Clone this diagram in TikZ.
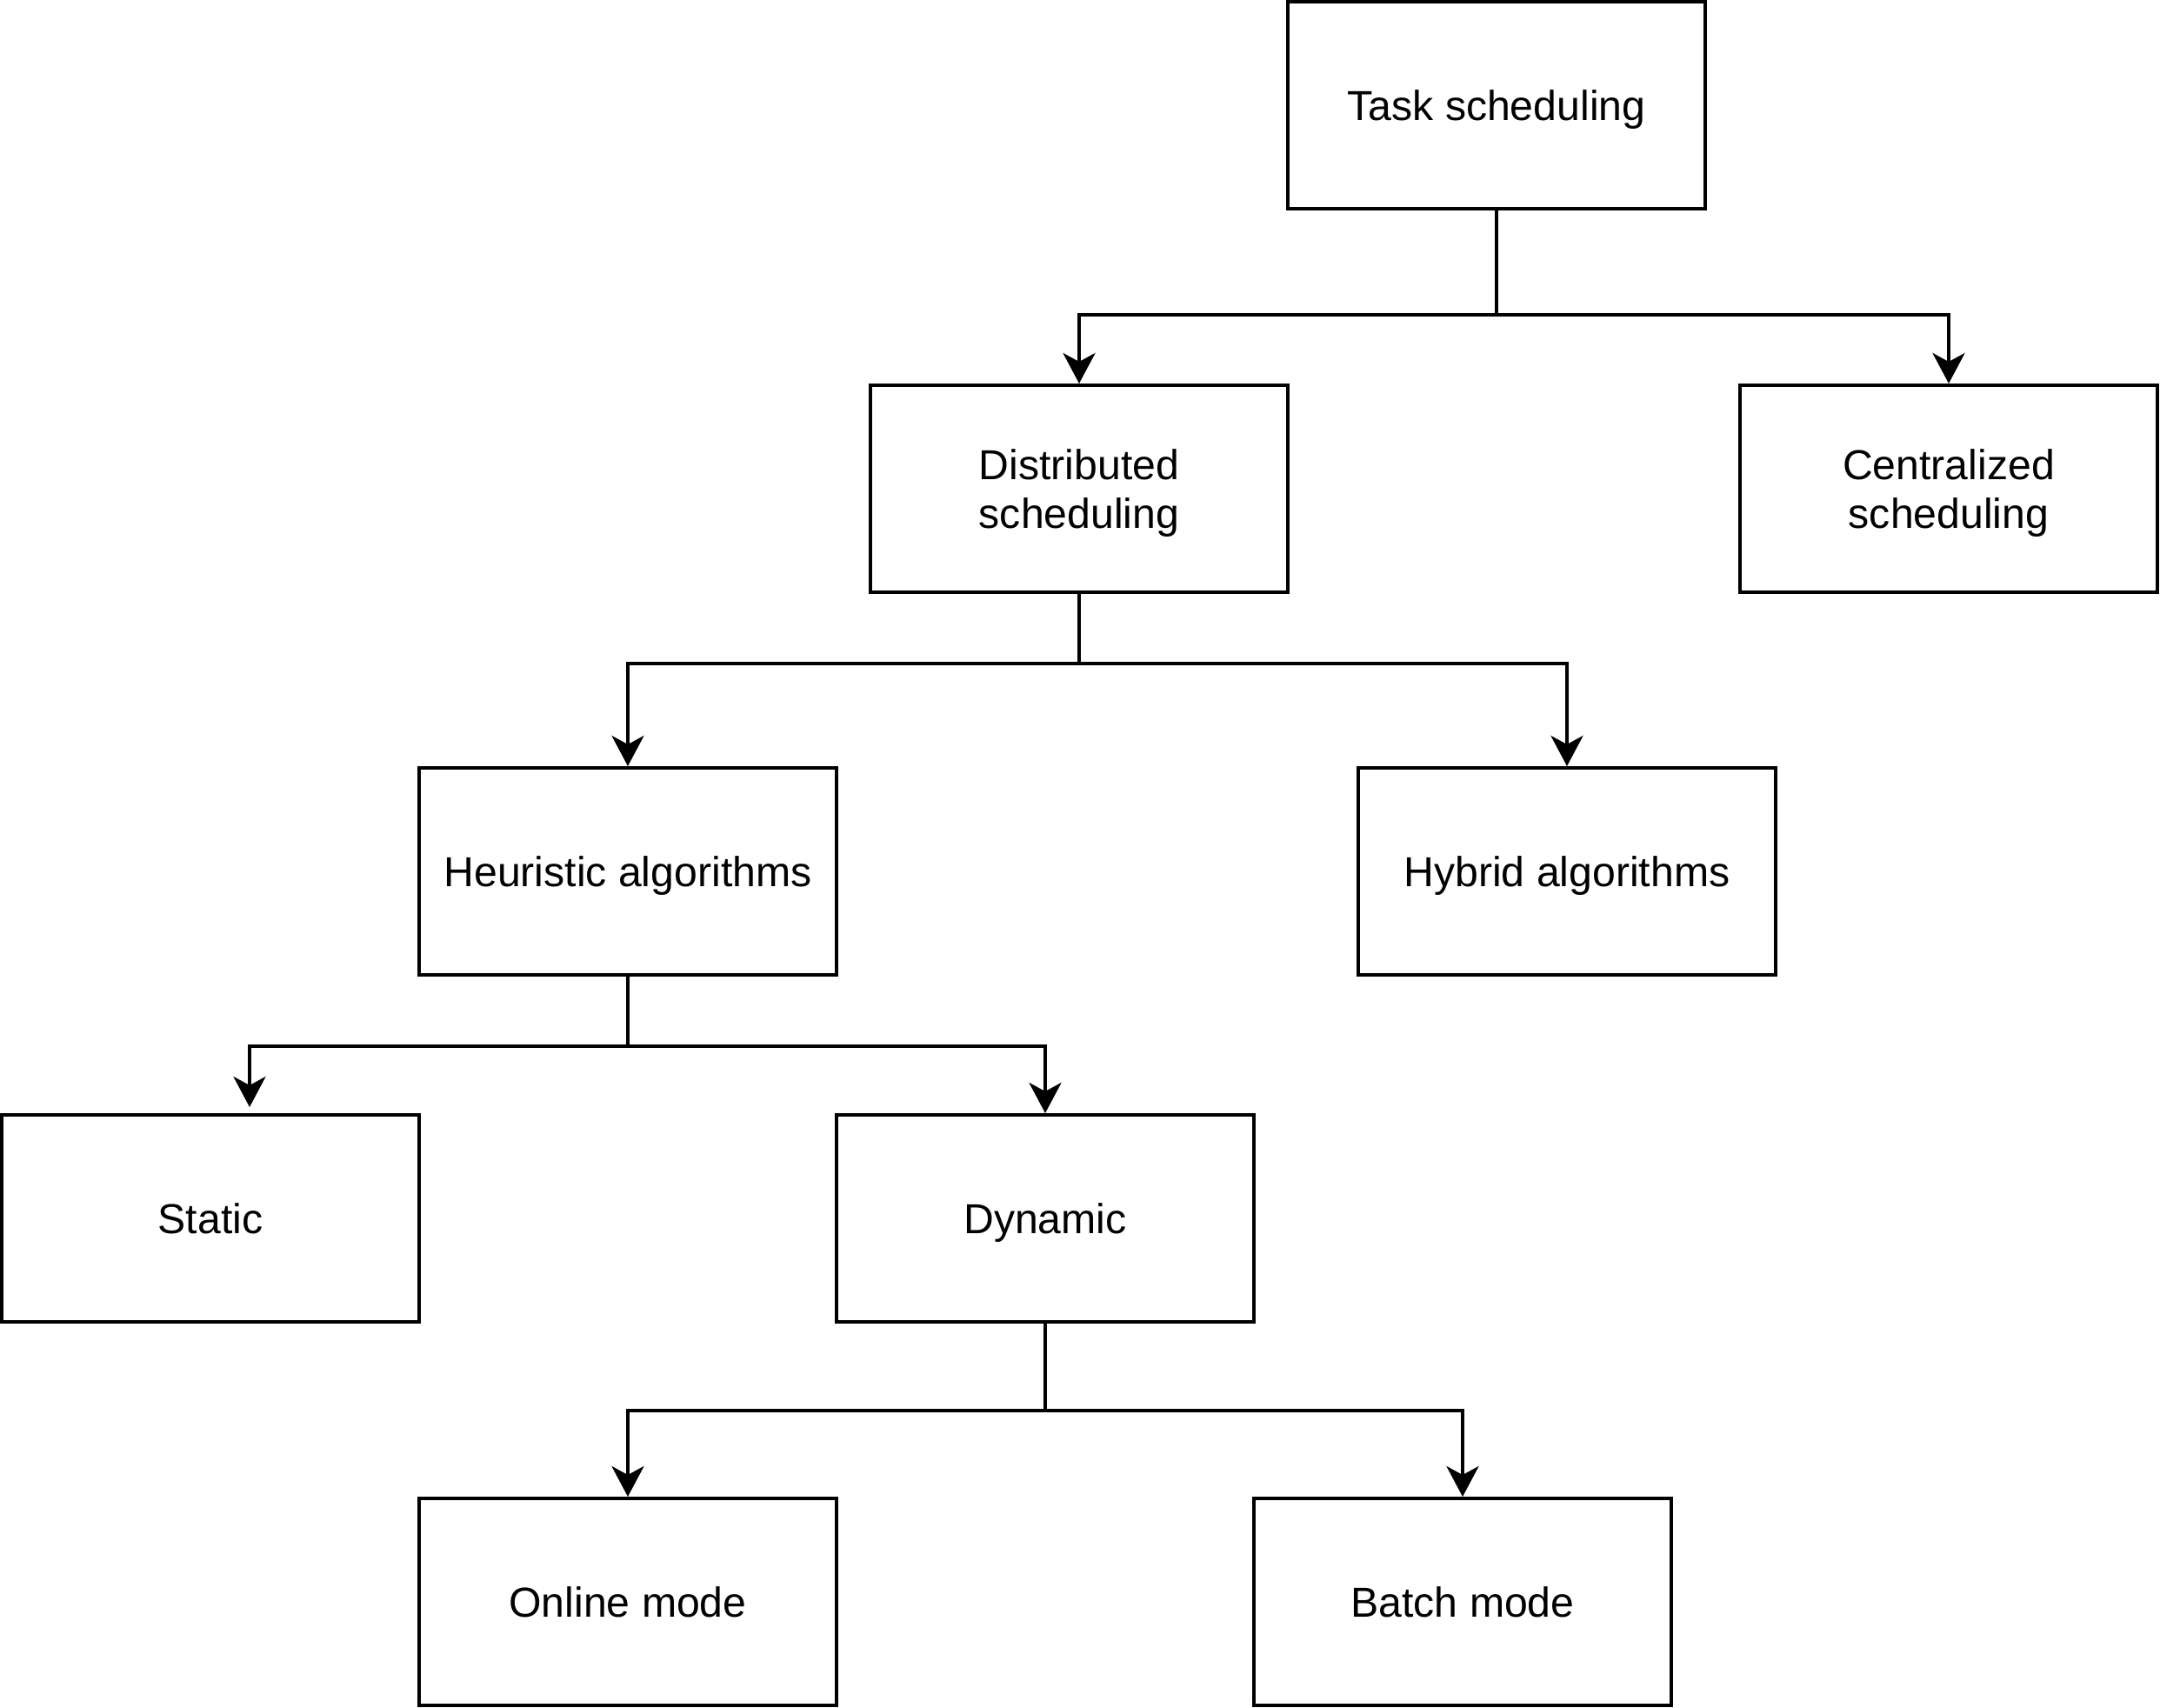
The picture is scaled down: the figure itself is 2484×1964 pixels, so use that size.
\documentclass[tikz,border=0pt]{standalone}
\usepackage{fontspec}
\setmainfont{Liberation Sans}
\usetikzlibrary{arrows.meta,calc}
\begin{document}
\begin{tikzpicture}[x=0.01cm,y=-0.01cm,
  box/.style={draw,line width=1.1pt,minimum width=4.8cm,minimum height=2.38cm,inner sep=0pt,align=center,text depth=0pt,font=\fontsize{13.7}{15.9}\selectfont},
  conn/.style={line width=1.1pt,-{Stealth[length=0.35cm,width=0.37cm,inset=0.1cm]}}]
\useasboundingbox (0,0) rectangle (2484,1964);
\node[box] (task) at (1721,121) {Task scheduling};
\node[box] (dist) at (1241,562) {Distributed\\scheduling};
\node[box] (cent) at (2241,562) {Centralized\\scheduling};
\node[box] (heur) at (722,1002) {Heuristic algorithms};
\node[box] (hyb) at (1802,1002) {Hybrid algorithms};
\node[box] (stat) at (242,1401) {Static};
\node[box] (dyn) at (1202,1401) {Dynamic};
\node[box] (onl) at (722,1842) {Online mode};
\node[box] (bat) at (1682,1842) {Batch mode};
\coordinate (sttip) at ($(stat.north)+(45,-7)$);
\draw[conn] (task.south) -- ++(0,120) -| (dist.north);
\draw[conn] (task.south) -- ++(0,120) -| (cent.north);
\draw[conn] (dist.south) -- ++(0,80) -| (heur.north);
\draw[conn] (dist.south) -- ++(0,80) -| (hyb.north);
\draw[conn] (heur.south) -- ++(0,80) -| (sttip);
\draw[conn] (heur.south) -- ++(0,80) -| (dyn.north);
\draw[conn] (dyn.south) -- ++(0,100) -| (onl.north);
\draw[conn] (dyn.south) -- ++(0,100) -| (bat.north);
\end{tikzpicture}
\end{document}
